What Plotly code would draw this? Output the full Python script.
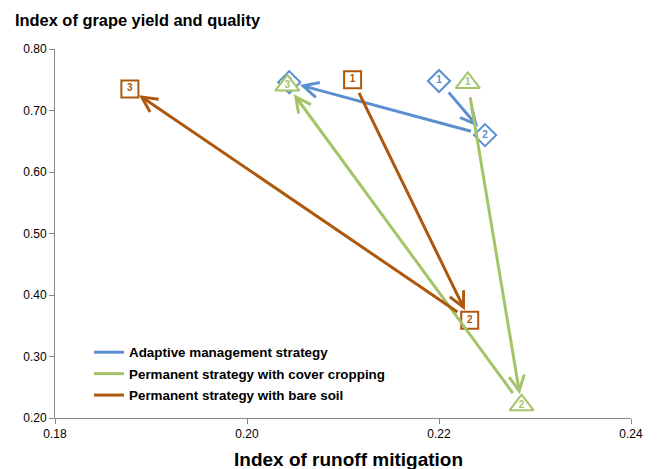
import plotly.graph_objects as go

# Data
series_names = ["Adaptive management strategy",
                "Permanent strategy with cover cropping",
                "Permanent strategy with bare soil"]
labels = ["1", "2", "3"]
adaptive_x = [0.2200, 0.2248, 0.2044]
adaptive_y = [0.748, 0.660, 0.746]
cover_x = [0.2230, 0.2286, 0.2042]
cover_y = [0.745, 0.221, 0.741]
bare_x = [0.2110, 0.2232, 0.1878]
bare_y = [0.750, 0.359, 0.735]

x_ticks = [0.18, 0.20, 0.22, 0.24]
y_ticks = [0.20, 0.30, 0.40, 0.50, 0.60, 0.70, 0.80]

colors = ["#5B8FD0", "#A3C468", "#AE580E"]
symbols = ["diamond", "triangle-up", "square"]
sizes = [17, 21, 17]
series = [(adaptive_x, adaptive_y), (cover_x, cover_y), (bare_x, bare_y)]

FONT = "Liberation Sans, Arial, Helvetica, sans-serif"

# the page body has an 8px margin; plot area in page pixels: x 55..631, y 49..418
OFF = 8
W, H = 660 - OFF, 469 - OFF
L, T = 55 - OFF, 49 - OFF
R, B = 660 - 631, 469 - 418
PW, PH = W - L - R, H - T - B


def px_to_paper(px, py):
    # page pixel -> paper coordinate
    return (px - OFF - L) / PW, (H - B - (py - OFF)) / PH


fig = go.Figure()
annotations = []

for i, (xs, ys) in enumerate(series):
    # arrows between consecutive points
    for k in range(len(xs) - 1):
        annotations.append(dict(
            x=xs[k + 1], y=ys[k + 1], ax=xs[k], ay=ys[k],
            xref="x", yref="y", axref="x", ayref="y",
            showarrow=True, arrowhead=5, arrowsize=1.0, arrowwidth=3,
            arrowcolor=colors[i], standoff=11, startstandoff=13, text=""))
    fig.add_trace(go.Scatter(
        x=xs, y=ys, mode="markers+text", text=labels,
        textposition="middle center",
        textfont=dict(family=FONT, size=10, color=colors[i], weight="bold"),
        marker=dict(symbol=symbols[i], size=sizes[i], color="white",
                    line=dict(color=colors[i], width=2)),
        showlegend=False, hoverinfo="skip"))

for i, name in enumerate(series_names):
    fig.add_trace(go.Scatter(
        x=[None], y=[None], mode="lines", name=name,
        line=dict(color=colors[i], width=3), legendgroup=name))

tx, ty = px_to_paper(13, 20)
annotations.append(dict(text="Index of grape yield and quality", x=tx, y=ty,
                        xref="paper", yref="paper", xanchor="left", yanchor="middle",
                        showarrow=False,
                        font=dict(family=FONT, size=16.4, weight="bold", color="black")))
ax_x, ax_y = px_to_paper(348, 459)
annotations.append(dict(text="Index of runoff mitigation", x=ax_x, y=ax_y,
                        xref="paper", yref="paper", xanchor="center", yanchor="middle",
                        showarrow=False,
                        font=dict(family=FONT, size=19, weight="bold", color="black")))

lx, ly = px_to_paper(89, 337)

fig.update_layout(
    width=W, height=H,
    margin=dict(l=L, r=R, t=T, b=B, autoexpand=False),
    paper_bgcolor="white", plot_bgcolor="white",
    font=dict(family=FONT, size=12, color="black"),
    xaxis=dict(range=[0.18, 0.24], tickvals=x_ticks, tickformat=".2f",
               showgrid=False, zeroline=False, showline=True, linecolor="#888888",
               linewidth=1, ticks="outside", tickcolor="#888888", ticklen=5,
               tickfont=dict(size=12), automargin=False),
    yaxis=dict(range=[0.2, 0.8], tickvals=y_ticks, tickformat=".2f",
               showgrid=False, zeroline=False, showline=True, linecolor="#888888",
               linewidth=1, ticks="outside", tickcolor="#888888", ticklen=5,
               tickfont=dict(size=12), automargin=False),
    legend=dict(x=lx, y=ly, xanchor="left", yanchor="top",
                bgcolor="rgba(0,0,0,0)", traceorder="grouped", tracegroupgap=1,
                font=dict(family=FONT, size=13.4, weight="bold")),
    annotations=annotations,
)

fig.write_html("out.html")
